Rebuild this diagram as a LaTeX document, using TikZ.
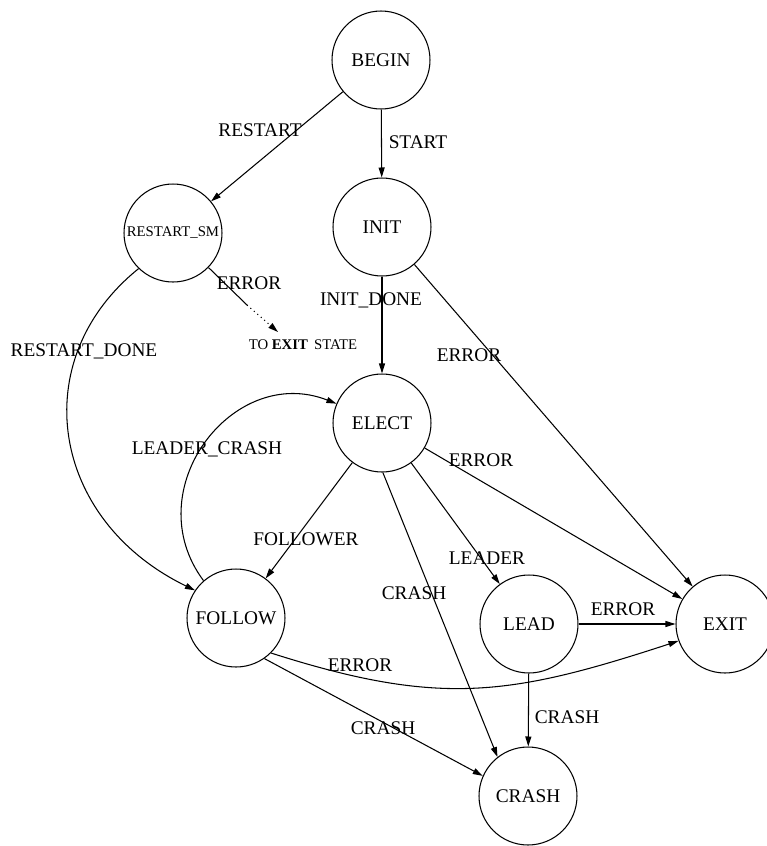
\documentclass[tikz,border=0pt]{standalone}
\usepackage{fontspec}
\setmainfont{Liberation Serif}
\usetikzlibrary{arrows.meta}
\begin{document}
\begin{tikzpicture}[x=0.02cm, y=-0.02cm, line width=0.6pt,
    >={Triangle[length=2mm, width=1.2mm]}]
  \tikzstyle{state}=[circle, draw, minimum size=1.96cm, inner sep=0pt,
    font=\fontsize{11}{13}\selectfont]
  \tikzstyle{small}=[font=\fontsize{8.4}{10}\selectfont]
  \tikzstyle{lbl}=[inner sep=0pt, text depth=0pt, font=\fontsize{11}{13}\selectfont]

  \useasboundingbox (0,0) rectangle (767,846);

  \node[state]        (begin)   at (381, 60)  {BEGIN};
  \node[state]        (init)    at (382, 227) {INIT};
  \node[state, small] (restart) at (173, 233) {RESTART\_SM};
  \node[state]        (elect)   at (382, 423) {ELECT};
  \node[state]        (follow)  at (236, 618) {FOLLOW};
  \node[state]        (lead)    at (529, 624) {LEAD};
  \node[state]        (exit)    at (725, 624) {EXIT};
  \node[state]        (crash)   at (528, 796) {CRASH};

  \node[small, inner sep=0pt] (toexit) at (303, 345) {TO \textbf{EXIT}\, STATE};
  \coordinate (errmid) at (247, 305);
  \coordinate (errtip) at (278, 332);

  \path (begin) edge[->] (init);
  \path (begin) edge[->] (restart);
  \path (init) edge[->] (elect);
  \path (init) edge[->] (exit);
  \path (elect) edge[->] (follow);
  \path (elect) edge[->] (lead);
  \path (elect.271) edge[->] (crash.128);
  \path (elect) edge[->] (exit);
  \path (lead) edge[->] (exit);
  \path (lead) edge[->] (crash);
  \path (follow.305) edge[->] (crash.156);

  % curved transitions
  \draw[->] (restart.226) .. controls (25, 360) and (50, 520) .. (follow.146);
  \draw[->] (follow.131) .. controls (136, 490) and (233, 363) .. (elect.157);
  \draw[->] (follow.315) .. controls (440, 707) and (510, 696) .. (exit.200);

  % error out of the restart machine
  \draw (restart) -- (errmid);
  \draw[->, dotted] (errmid) -- (errtip);

  \node[lbl] (lstart)     at (418, 142) {START};
  \node[lbl] (lrestart)   at (260, 130) {RESTART};
  \node[lbl] (linitdone)  at (371, 299) {INIT\_DONE};
  \node[lbl] (lrserr)     at (249, 283) {ERROR};
  \node[lbl] (lrsdone)    at (84, 350)  {RESTART\_DONE};
  \node[lbl] (llcrash)    at (207, 448) {LEADER\_CRASH};
  \node[lbl] (liniterr)   at (469, 355) {ERROR};
  \node[lbl] (lelecterr)  at (481, 460) {ERROR};
  \node[lbl] (lfollower)  at (306, 539) {FOLLOWER};
  \node[lbl] (lleader)    at (487, 558) {LEADER};
  \node[lbl] (lelcrash)   at (414, 593) {CRASH};
  \node[lbl] (lleaderr)   at (623, 609) {ERROR};
  \node[lbl] (lfolerr)    at (360, 665) {ERROR};
  \node[lbl] (lfolcrash)  at (383, 728) {CRASH};
  \node[lbl] (lleadcrash) at (567, 717) {CRASH};
\end{tikzpicture}
\end{document}
